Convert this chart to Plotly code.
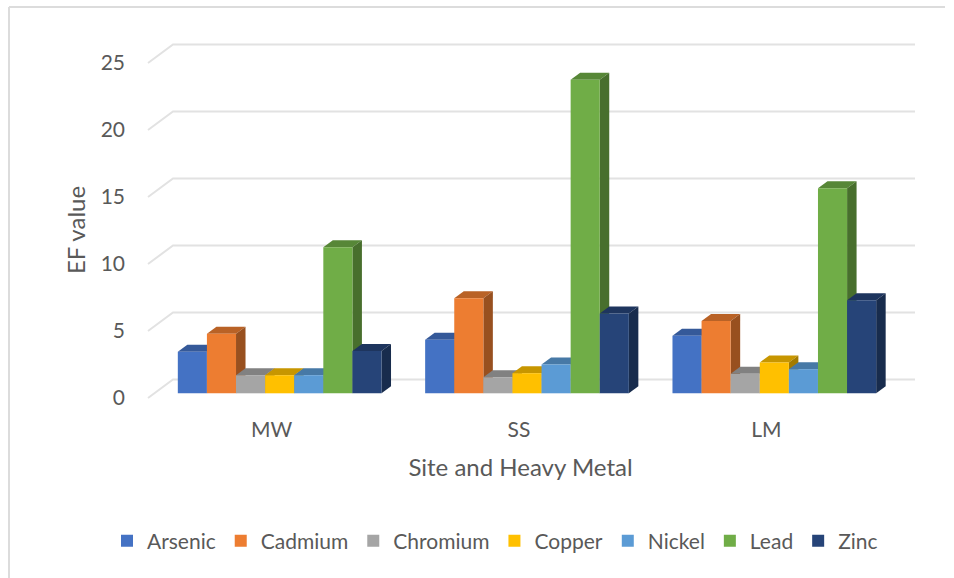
import plotly.graph_objects as go

# Enrichment factor per site, one list per metal
sites = ["MW", "SS", "LM"]
arsenic = [3.1, 4.0, 4.3]
cadmium = [4.45, 7.1, 5.4]
chromium = [1.35, 1.2, 1.45]
copper = [1.35, 1.5, 2.3]
nickel = [1.35, 2.15, 1.8]
lead = [10.9, 23.4, 15.3]
zinc = [3.15, 5.95, 6.95]
y_ticks = [0, 5, 10, 15, 20, 25]

metals = [
    ("Arsenic", arsenic, "#4472C4"),
    ("Cadmium", cadmium, "#ED7D31"),
    ("Chromium", chromium, "#A5A5A5"),
    ("Copper", copper, "#FFC000"),
    ("Nickel", nickel, "#5B9BD5"),
    ("Lead", lead, "#70AD47"),
    ("Zinc", zinc, "#264478"),
]

# Plot frame in pixels; the axis plane starts at (FLOOR_X, FLOOR_Y)
WIDTH, HEIGHT = 954, 578
LEFT, RIGHT, TOP, BOTTOM = 126, 915, 42, 418
FLOOR_X, FLOOR_Y = 148, 398
PX_PER_SITE = 247.33
PX_PER_UNIT = 13.4
X_ZERO = FLOOR_X + PX_PER_SITE / 2
X_RANGE = [(LEFT - X_ZERO) / PX_PER_SITE, (RIGHT - X_ZERO) / PX_PER_SITE]
Y_RANGE = [(FLOOR_Y - BOTTOM) / PX_PER_UNIT, (FLOOR_Y - TOP) / PX_PER_UNIT]

# Oblique projection: the wall sits behind the axis plane, bars in between
WALL_START = -0.5
WALL_DX, WALL_DY = 25 / PX_PER_SITE, 18.5 / PX_PER_UNIT
BAR_SHIFT, BAR_LIFT = 8.0 / PX_PER_SITE, 4.7 / PX_PER_UNIT
DEPTH_DX, DEPTH_DY = 9.5 / PX_PER_SITE, 7.0 / PX_PER_UNIT
BAR_WIDTH = 29.1 / PX_PER_SITE


def shade(hex_color, factor):
    r, g, b = (int(hex_color[i:i + 2], 16) for i in (1, 3, 5))
    return f"rgb({r * factor:.0f},{g * factor:.0f},{b * factor:.0f})"


fig = go.Figure()

# Back-wall gridlines, bent along the side wall
for tick in y_ticks:
    fig.add_trace(go.Scatter(
        x=[WALL_START, WALL_START + WALL_DX, X_RANGE[1]],
        y=[tick, tick + WALL_DY, tick + WALL_DY],
        mode="lines",
        line=dict(color="#E2E2E2", width=2),
        showlegend=False,
        hoverinfo="skip",
        zorder=0,
    ))

# Series are layered left to right so each front face covers the previous side face
for s, (name, values, color) in enumerate(metals):
    left_edges = [i + BAR_SHIFT + (s - 3.5) * BAR_WIDTH for i in range(len(sites))]
    for x0, v in zip(left_edges, values):
        x1 = x0 + BAR_WIDTH
        y0, y1 = BAR_LIFT, BAR_LIFT + v
        fig.add_trace(go.Scatter(
            x=[x0, x0 + DEPTH_DX, x1 + DEPTH_DX, x1, x0],
            y=[y1, y1 + DEPTH_DY, y1 + DEPTH_DY, y1, y1],
            mode="lines", line=dict(width=0), fill="toself",
            fillcolor=shade(color, 0.78),
            showlegend=False, hoverinfo="skip", zorder=2 * s + 1,
        ))
        fig.add_trace(go.Scatter(
            x=[x1, x1 + DEPTH_DX, x1 + DEPTH_DX, x1, x1],
            y=[y0, y0 + DEPTH_DY, y1 + DEPTH_DY, y1, y0],
            mode="lines", line=dict(width=0), fill="toself",
            fillcolor=shade(color, 0.64),
            showlegend=False, hoverinfo="skip", zorder=2 * s + 1,
        ))
    fig.add_trace(go.Bar(
        name=name,
        x=list(range(len(sites))),
        y=values,
        base=BAR_LIFT,
        width=BAR_WIDTH,
        offset=BAR_SHIFT + (s - 3.5) * BAR_WIDTH,
        marker=dict(color=color, line=dict(width=0)),
        zorder=2 * s + 2,
    ))

FONT = "Lato, Carlito, Calibri, sans-serif"
TEXT = "#595959"

# Chart-area frame, open on the right and the bottom
frame = dict(type="line", xref="paper", yref="paper", line=dict(color="#DCDCDC", width=2))
to_paper_x = lambda px: (px - LEFT) / (RIGHT - LEFT)
to_paper_y = lambda px: (BOTTOM - px) / (BOTTOM - TOP)

fig.update_layout(
    width=WIDTH,
    height=HEIGHT,
    autosize=False,
    barmode="overlay",
    margin=dict(l=LEFT, r=WIDTH - RIGHT, t=TOP, b=HEIGHT - BOTTOM, autoexpand=False),
    paper_bgcolor="white",
    plot_bgcolor="rgba(0,0,0,0)",
    font=dict(family=FONT, size=21, color=TEXT),
    showlegend=True,
    legend=dict(
        orientation="h",
        x=to_paper_x(495),
        xanchor="center",
        y=to_paper_y(541),
        yanchor="middle",
        font=dict(family=FONT, size=21, color=TEXT),
        traceorder="normal",
    ),
    shapes=[
        dict(frame, x0=to_paper_x(9), x1=to_paper_x(9), y0=to_paper_y(7), y1=to_paper_y(578)),
        dict(frame, x0=to_paper_x(9), x1=to_paper_x(945), y0=to_paper_y(7), y1=to_paper_y(7)),
    ],
    xaxis=dict(
        range=X_RANGE,
        tickmode="array",
        tickvals=list(range(len(sites))),
        ticktext=sites,
        showgrid=False,
        zeroline=False,
        showline=False,
        ticks="",
        ticklabelstandoff=-3,
        title=dict(text="Site and Heavy Metal", standoff=19, font=dict(size=24)),
    ),
    yaxis=dict(
        range=Y_RANGE,
        tickmode="array",
        tickvals=y_ticks,
        showgrid=False,
        zeroline=False,
        showline=False,
        ticks="",
        title=dict(text="EF value", standoff=8, font=dict(size=24)),
    ),
)

fig.write_html("out.html")
